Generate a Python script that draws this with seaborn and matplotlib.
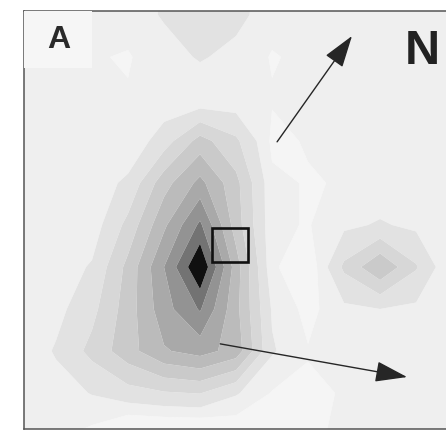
import numpy as np
import matplotlib
matplotlib.use("Agg")
import matplotlib.pyplot as plt
from matplotlib.patches import Rectangle
import seaborn as sns

# Grid node coordinates (grid units, east and north)
easting = [0, 1, 2, 3, 4, 5, 6, 7, 8, 9, 10, 11, 12]
northing = [0, 1, 2, 3, 4, 5, 6, 7, 8, 9, 10, 11]

# Gridded intensity values, one row per northing (south to north)
row_0 = [0.4, 0.4, 0.0, -1.0, -1.0, -1.0, -0.5, 0.0, 0.2, 0.3, 0.4, 0.4, 0.4]
row_1 = [0.4, 0.6, 1.05, 1.6, 1.9, 2.05, 1.1, 0.2, 0.1, 0.3, 0.5, 0.5, 0.4]
row_2 = [0.3, 1.1, 2.3, 3.6, 4.9, 5.4, 4.6, 1.1, 0.3, 0.4, 0.6, 0.5, 0.4]
row_3 = [0.4, 0.7, 1.7, 3.5, 5.6, 7.1, 4.3, 0.9, 0.0, 0.8, 1.0, 0.8, 0.3]
row_4 = [0.3, 0.5, 1.1, 3.3, 6.0, 9.0, 4.5, 0.4, -0.4, 2.2, 3.9, 2.1, 0.1]
row_5 = [0.3, 0.4, 0.5, 2.3, 4.8, 7.2, 3.5, 0.4, 0.2, 0.8, 1.1, 0.8, 0.3]
row_6 = [0.3, 0.3, 0.5, 1.2, 3.6, 5.3, 3.3, 0.4, 0.2, 0.3, 0.4, 0.4, 0.4]
row_7 = [0.3, 0.3, 0.3, 0.3, 1.5, 3.4, 2.2, 0.1, 0.3, 0.4, 0.4, 0.5, 0.5]
row_8 = [0.5, 0.5, 0.3, 0.3, 0.4, 0.3, 0.4, 0.3, 0.5, 0.5, 0.5, 0.5, 0.5]
row_9 = [0.5, 0.5, 0.3, 0.2, 0.6, 1.1, 0.7, 0.2, 0.4, 0.5, 0.5, 0.5, 0.5]
row_10 = [0.6, 0.6, 0.4, 0.5, 1.1, 1.6, 1.3, 0.5, 0.5, 0.5, 0.5, 0.5, 0.5]
row_11 = [0.6, 0.6, 0.5, 0.6, 1.2, 1.6, 1.4, 0.6, 0.5, 0.5, 0.5, 0.5, 0.5]

# Contour levels and their grey shades
levels = [-5, 0.25, 1, 2, 3, 4, 5, 6, 7, 8, 20]
shades = ["#f5f5f5", "#efefef", "#e2e2e2", "#d7d7d7", "#cacaca",
          "#bbbbbb", "#a9a9a9", "#939393", "#737373", "#101010"]

# Annotation marks
panel_label = "A"
north_label = "N"
site_box = (5.33, 4.12, 1.0, 0.81)        # x, y, width, height
north_arrow = ((7.14, 6.98), (9.22, 9.50))  # tail, tip
east_arrow = ((5.56, 2.17), (10.75, 1.38))  # tail, tip

sns.set_theme(style="white")
plt.rcParams["font.family"] = ["Liberation Sans", "DejaVu Sans"]

Z = np.array([row_0, row_1, row_2, row_3, row_4, row_5, row_6,
              row_7, row_8, row_9, row_10, row_11])
X, Y = np.meshgrid(easting, northing)

fig = plt.figure(figsize=(4.46, 4.31), dpi=100, facecolor="white")
ax = fig.add_axes([24 / 446, 1 / 431, 436 / 446, 418 / 431])

ax.contourf(X, Y, Z, levels=levels, colors=shades, antialiased=True)

ax.set_xlim(0.111, 12.22)
ax.set_ylim(0.143, 10.095)
ax.set_xticks([])
ax.set_yticks([])
for side, spine in ax.spines.items():
    spine.set_visible(True)
    spine.set_color("#555555")
    spine.set_linewidth(1.1)

# Panel label with its light backing box
ax.add_patch(Rectangle((0.111, 8.74), 1.89, 1.36, facecolor="#f6f6f6",
                       edgecolor="none", zorder=3))
ax.text(1.08, 9.42, panel_label, fontsize=23, fontweight="bold",
        color="#2a2a2a", ha="center", va="center", zorder=4)

ax.text(11.17, 9.15, north_label, fontsize=35, fontweight="bold",
        color="#222222", ha="center", va="center", zorder=4)

# Site square
ax.add_patch(Rectangle(site_box[:2], site_box[2], site_box[3], fill=False,
                       edgecolor="#111111", linewidth=1.9, zorder=5))

# Direction arrows
for tail, tip in (north_arrow, east_arrow):
    ax.annotate("", xy=tip, xytext=tail,
                arrowprops=dict(arrowstyle="-|>,head_length=2.0,head_width=0.65",
                                mutation_scale=10, color="#262626",
                                linewidth=1.0, shrinkA=0, shrinkB=0),
                zorder=6)

fig.savefig("out.png", dpi=100, facecolor="white")
